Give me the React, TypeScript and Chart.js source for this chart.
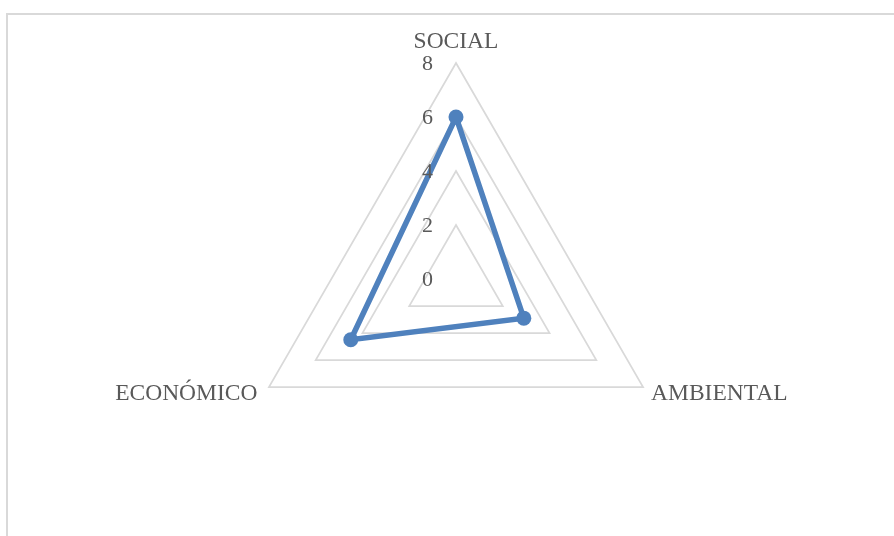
import React, { useEffect, useRef } from "react";
import { Chart, registerables } from "chart.js";

Chart.register(...registerables);

const categories: string[] = ["SOCIAL", "AMBIENTAL", "ECONÓMICO"];
const seriesValues: number[] = [6, 2.9, 4.5];
const tickValues: number[] = [0, 2, 4, 6, 8];

const TEXT_COLOR = "#595959";
const LINE_COLOR = "#4F81BD";
const GRID_COLOR = "#D9D9D9";
const FONT_FAMILY = "'Liberation Serif', 'Times New Roman', serif";

const labelPlugin = {
  id: "excelLabels",
  afterDraw(chart: any) {
    const s = chart.scales.r;
    const ctx = chart.ctx;
    ctx.save();
    ctx.fillStyle = TEXT_COLOR;
    // tick labels
    ctx.font = `22px ${FONT_FAMILY}`;
    ctx.textAlign = "right";
    ctx.textBaseline = "middle";
    tickValues.forEach((v) => {
      const d = s.getDistanceFromCenterForValue(v);
      ctx.fillText(String(v), s.xCenter - 23, s.yCenter - d + 1);
    });
    // point labels
    ctx.font = `23.5px ${FONT_FAMILY}`;
    ctx.textBaseline = "alphabetic";
    categories.forEach((c, i) => {
      const p = s.getPointPosition(i, s.drawingArea);
      if (i === 0) {
        ctx.textAlign = "center";
        ctx.fillText(c, p.x, p.y - 15);
      } else if (p.x > s.xCenter) {
        ctx.textAlign = "left";
        ctx.fillText(c, p.x + 8, p.y + 12.5);
      } else {
        ctx.textAlign = "right";
        ctx.fillText(c, p.x - 11.5, p.y + 12.5);
      }
    });
    ctx.restore();
  },
};

export default function App() {
  const ref = useRef<HTMLCanvasElement | null>(null);
  useEffect(() => {
    if (!ref.current) return;
    const chart = new Chart(ref.current, {
      type: "radar",
      data: {
        labels: categories,
        datasets: [
          {
            label: "Serie 1",
            data: seriesValues,
            borderColor: LINE_COLOR,
            backgroundColor: LINE_COLOR,
            borderWidth: 5.5,
            pointRadius: 7.5,
            pointBackgroundColor: LINE_COLOR,
            pointBorderColor: LINE_COLOR,
            pointBorderWidth: 0,
            fill: false,
          },
        ],
      },
      options: {
        responsive: false,
        animation: false,
        layout: { padding: { left: 240, right: 222, top: 63, bottom: 41 } },
        plugins: { legend: { display: false }, tooltip: { enabled: false } },
        scales: {
          r: {
            min: 0,
            max: 8,
            ticks: { stepSize: 2, display: false },
            grid: { color: GRID_COLOR, lineWidth: 1.75 },
            angleLines: { display: false },
            pointLabels: { display: false },
          },
        },
      },
      plugins: [labelPlugin],
    });
    return () => chart.destroy();
  }, []);

  return (
    <div
      style={{
        position: "fixed",
        left: 0,
        top: 0,
        width: 894,
        height: 536,
        overflow: "hidden",
        background: "#fff",
      }}
    >
      <div
        style={{
          position: "absolute",
          left: 6,
          top: 13,
          width: 920,
          height: 560,
          border: `2px solid ${GRID_COLOR}`,
          boxSizing: "border-box",
        }}
      />
      <canvas
        ref={ref}
        width={894}
        height={536}
        style={{ position: "absolute", left: 0, top: 0, width: 894, height: 536 }}
      />
    </div>
  );
}
